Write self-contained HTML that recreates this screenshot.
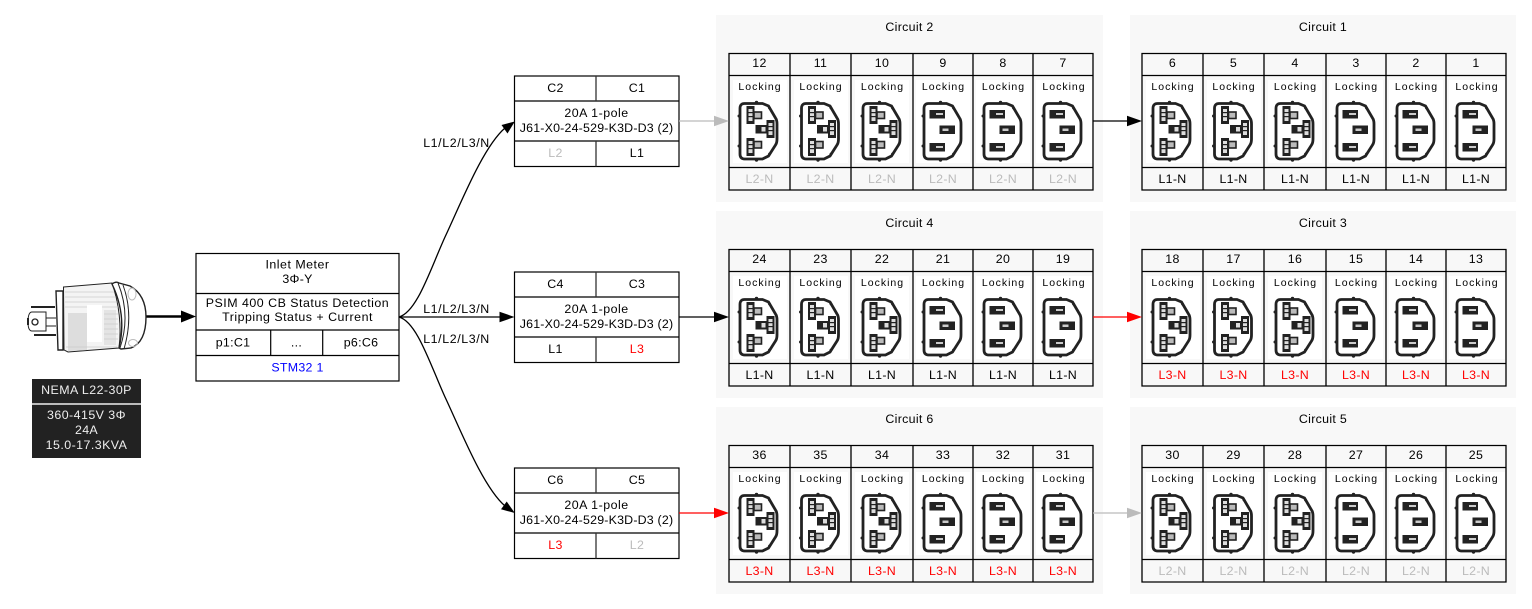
<!DOCTYPE html>
<html><head><meta charset="utf-8"><style>
html,body{margin:0;padding:0;background:#fff}
svg{display:block}
text{font-family:"Liberation Sans",sans-serif;font-size:12.4px;text-anchor:middle;fill:#000;letter-spacing:.3px}
.lk{font-size:10.5px;letter-spacing:1px}
.g{fill:#bbb}.r{fill:#f00}
.j{letter-spacing:.2px}.m{letter-spacing:.6px}.p{letter-spacing:.5px}.w{letter-spacing:.45px}
</style></head><body>
<svg xmlns="http://www.w3.org/2000/svg" width="1532" height="609" viewBox="0 0 1532 609">
<defs>
<g id="o"><path d="M6,1.500 H24 L30,4 L37,16 Q38.500,18 38.500,22 V37 Q38.500,41 37,43 L30,54 L24,57 H6 Q1.500,57 1.500,52 V6.500 Q1.500,1.500 6,1.500 Z" fill="#fff" stroke="#222" stroke-width="2.800"/><circle cx="0.500" cy="14" r="1.500" fill="#222"/><circle cx="0.500" cy="44" r="1.500" fill="#222"/><circle cx="18" cy="0.500" r="1.700" fill="#222"/><circle cx="18" cy="58" r="1.700" fill="#222"/><circle cx="31" cy="6" r="1.400" fill="#222"/><circle cx="31" cy="52" r="1.400" fill="#222"/></g>
<g id="lock"><use href="#o"/>
<g fill="#222"><rect x="8" y="4" width="8" height="18"/><rect x="8" y="36" width="8" height="18"/><rect x="28" y="18" width="8" height="18"/><rect x="17" y="23" width="12" height="8.500"/></g>
<g fill="#ddd"><rect x="10" y="7" width="4" height="12"/><rect x="10" y="39" width="4" height="12"/><rect x="30" y="21" width="4" height="12"/><rect x="23" y="25" width="4" height="4.500"/></g>
<g fill="#222"><rect x="10" y="10" width="4" height="1.200"/><rect x="10" y="14" width="4" height="1.200"/><rect x="10" y="42" width="4" height="1.200"/><rect x="10" y="46" width="4" height="1.200"/><rect x="30" y="24" width="4" height="1.200"/><rect x="30" y="28" width="4" height="1.200"/></g>
<g fill="#bbb" stroke="#222" stroke-width="1.600"><rect x="15.500" y="10" width="7.500" height="6.500"/><rect x="15.500" y="39.500" width="7.500" height="6.500"/></g></g>
<g id="plain"><use href="#o"/>
<g fill="#222"><rect x="7" y="8" width="15.500" height="8.500"/><rect x="7" y="41" width="15.500" height="8.500"/><rect x="17" y="23.500" width="15.500" height="8.500"/></g>
<g fill="#ccc"><rect x="13.500" y="11" width="7" height="2"/><rect x="13.500" y="44" width="7" height="2"/><rect x="20" y="26.500" width="6" height="2.500"/></g></g>
<path id="aK" d="M0,0 L-15,-5.300 V5.300 Z"/>
<g id="frame">
<rect x="4" y="80" width="54" height="83" fill="#fff"/><rect x="65" y="80" width="54" height="83" fill="#fff"/><rect x="126" y="80" width="54" height="83" fill="#fff"/><rect x="187" y="80" width="54" height="83" fill="#fff"/><rect x="247" y="80" width="54" height="83" fill="#fff"/><rect x="307" y="80" width="56" height="83" fill="#fff"/>
<use href="#lock" x="9.500" y="102"/><use href="#lock" x="71" y="102"/><use href="#lock" x="132.500" y="102"/><use href="#plain" x="193.500" y="102"/><use href="#plain" x="253.500" y="102"/><use href="#plain" x="313.500" y="102"/>
<path d="M0,53.500 H364 V190 H0 Z M0,75.500 H364 M0,167.500 H364 M61,53.500 V190 M122,53.500 V190 M184,53.500 V190 M244,53.500 V190 M304,53.500 V190" fill="none" stroke="#000" stroke-width="1.300"/>
</g>
<g id="brk" fill="none" stroke="#000" stroke-width="1.200">
<rect x="514.500" y="76" width="164.500" height="90.500" fill="#fff"/><path d="M514.500,101 H679 M514.500,141 H679"/><path d="M596,76 V101 M596,141 V166.500" stroke="#333" stroke-width="1.300"/></g>
</defs>

<rect width="1532" height="609" fill="#fff"/>
<!-- cluster backgrounds -->
<g fill="#f8f8f8">
<rect x="716" y="15" width="387" height="187"/><rect x="1130" y="15" width="386" height="187"/>
<rect x="716" y="211" width="387" height="187"/><rect x="1130" y="211" width="386" height="187"/>
<rect x="716" y="407" width="387" height="187"/><rect x="1130" y="407" width="386" height="187"/>
</g>

<!-- Circuit 2 -->
<g transform="translate(729,0)"><use href="#frame"/>
<text x="180.500" y="31">Circuit 2</text>
<text x="30.500" y="67">12</text><text x="91.500" y="67">11</text><text x="153" y="67">10</text><text x="214" y="67">9</text><text x="274" y="67">8</text><text x="334" y="67">7</text>
<text class="lk" x="31" y="90">Locking</text><text class="lk" x="92" y="90">Locking</text><text class="lk" x="153.500" y="90">Locking</text><text class="lk" x="214.500" y="90">Locking</text><text class="lk" x="274.500" y="90">Locking</text><text class="lk" x="335" y="90">Locking</text>
<text class="g" x="30.500" y="183">L2-N</text><text class="g" x="91.500" y="183">L2-N</text><text class="g" x="153" y="183">L2-N</text><text class="g" x="214" y="183">L2-N</text><text class="g" x="274" y="183">L2-N</text><text class="g" x="334" y="183">L2-N</text>
</g>
<!-- Circuit 1 -->
<g transform="translate(1142,0)"><use href="#frame"/>
<text x="181" y="31">Circuit 1</text>
<text x="30.500" y="67">6</text><text x="91.500" y="67">5</text><text x="153" y="67">4</text><text x="214" y="67">3</text><text x="274" y="67">2</text><text x="334" y="67">1</text>
<text class="lk" x="31" y="90">Locking</text><text class="lk" x="92" y="90">Locking</text><text class="lk" x="153.500" y="90">Locking</text><text class="lk" x="214.500" y="90">Locking</text><text class="lk" x="274.500" y="90">Locking</text><text class="lk" x="335" y="90">Locking</text>
<text x="30.500" y="183">L1-N</text><text x="91.500" y="183">L1-N</text><text x="153" y="183">L1-N</text><text x="214" y="183">L1-N</text><text x="274" y="183">L1-N</text><text x="334" y="183">L1-N</text>
</g>
<!-- Circuit 4 -->
<g transform="translate(729,196)"><use href="#frame"/>
<text x="180.500" y="31">Circuit 4</text>
<text x="30.500" y="67">24</text><text x="91.500" y="67">23</text><text x="153" y="67">22</text><text x="214" y="67">21</text><text x="274" y="67">20</text><text x="334" y="67">19</text>
<text class="lk" x="31" y="90">Locking</text><text class="lk" x="92" y="90">Locking</text><text class="lk" x="153.500" y="90">Locking</text><text class="lk" x="214.500" y="90">Locking</text><text class="lk" x="274.500" y="90">Locking</text><text class="lk" x="335" y="90">Locking</text>
<text x="30.500" y="183">L1-N</text><text x="91.500" y="183">L1-N</text><text x="153" y="183">L1-N</text><text x="214" y="183">L1-N</text><text x="274" y="183">L1-N</text><text x="334" y="183">L1-N</text>
</g>
<!-- Circuit 3 -->
<g transform="translate(1142,196)"><use href="#frame"/>
<text x="181" y="31">Circuit 3</text>
<text x="30.500" y="67">18</text><text x="91.500" y="67">17</text><text x="153" y="67">16</text><text x="214" y="67">15</text><text x="274" y="67">14</text><text x="334" y="67">13</text>
<text class="lk" x="31" y="90">Locking</text><text class="lk" x="92" y="90">Locking</text><text class="lk" x="153.500" y="90">Locking</text><text class="lk" x="214.500" y="90">Locking</text><text class="lk" x="274.500" y="90">Locking</text><text class="lk" x="335" y="90">Locking</text>
<text class="r" x="30.500" y="183">L3-N</text><text class="r" x="91.500" y="183">L3-N</text><text class="r" x="153" y="183">L3-N</text><text class="r" x="214" y="183">L3-N</text><text class="r" x="274" y="183">L3-N</text><text class="r" x="334" y="183">L3-N</text>
</g>
<!-- Circuit 6 -->
<g transform="translate(729,392)"><use href="#frame"/>
<text x="180.500" y="31">Circuit 6</text>
<text x="30.500" y="67">36</text><text x="91.500" y="67">35</text><text x="153" y="67">34</text><text x="214" y="67">33</text><text x="274" y="67">32</text><text x="334" y="67">31</text>
<text class="lk" x="31" y="90">Locking</text><text class="lk" x="92" y="90">Locking</text><text class="lk" x="153.500" y="90">Locking</text><text class="lk" x="214.500" y="90">Locking</text><text class="lk" x="274.500" y="90">Locking</text><text class="lk" x="335" y="90">Locking</text>
<text class="r" x="30.500" y="183">L3-N</text><text class="r" x="91.500" y="183">L3-N</text><text class="r" x="153" y="183">L3-N</text><text class="r" x="214" y="183">L3-N</text><text class="r" x="274" y="183">L3-N</text><text class="r" x="334" y="183">L3-N</text>
</g>
<!-- Circuit 5 -->
<g transform="translate(1142,392)"><use href="#frame"/>
<text x="181" y="31">Circuit 5</text>
<text x="30.500" y="67">30</text><text x="91.500" y="67">29</text><text x="153" y="67">28</text><text x="214" y="67">27</text><text x="274" y="67">26</text><text x="334" y="67">25</text>
<text class="lk" x="31" y="90">Locking</text><text class="lk" x="92" y="90">Locking</text><text class="lk" x="153.500" y="90">Locking</text><text class="lk" x="214.500" y="90">Locking</text><text class="lk" x="274.500" y="90">Locking</text><text class="lk" x="335" y="90">Locking</text>
<text class="g" x="30.500" y="183">L2-N</text><text class="g" x="91.500" y="183">L2-N</text><text class="g" x="153" y="183">L2-N</text><text class="g" x="214" y="183">L2-N</text><text class="g" x="274" y="183">L2-N</text><text class="g" x="334" y="183">L2-N</text>
</g>

<!-- Breakers -->
<use href="#brk"/><use href="#brk" y="196"/><use href="#brk" y="392"/>
<text x="555.500" y="92">C2</text><text x="637" y="92">C1</text>
<text class="p" x="596.500" y="117">20A 1-pole</text><text class="j" x="596.500" y="132">J61-X0-24-529-K3D-D3 (2)</text>
<text class="g" x="555.500" y="157">L2</text><text x="637" y="157">L1</text>
<text x="555.500" y="288">C4</text><text x="637" y="288">C3</text>
<text class="p" x="596.500" y="313">20A 1-pole</text><text class="j" x="596.500" y="328">J61-X0-24-529-K3D-D3 (2)</text>
<text x="555.500" y="353">L1</text><text class="r" x="637" y="353">L3</text>
<text x="555.500" y="484">C6</text><text x="637" y="484">C5</text>
<text class="p" x="596.500" y="509">20A 1-pole</text><text class="j" x="596.500" y="524">J61-X0-24-529-K3D-D3 (2)</text>
<text class="r" x="555.500" y="549">L3</text><text class="g" x="637" y="549">L2</text>

<!-- Inlet table -->
<g fill="none" stroke="#000" stroke-width="1.200">
<rect x="196" y="253.500" width="203" height="127.500" fill="#fff"/>
<path d="M196,293.500 H399 M196,330 H399 M196,355.500 H399 M270.700,330 V355.500 M322.700,330 V355.500"/>
</g>
<text class="p" x="297.500" y="268.500">Inlet Meter</text><text x="297.500" y="283">3Φ-Y</text>
<text class="p" x="297.500" y="307">PSIM 400 CB Status Detection</text><text class="p" x="297.500" y="321">Tripping Status + Current</text>
<text x="233" y="346.500">p1:C1</text><text x="296.500" y="346.500">...</text><text x="361" y="346.500">p6:C6</text>
<text x="297.500" y="371.500" style="fill:#00f">STM32 1</text>

<!-- Connectors -->
<g fill="none" stroke="#000" stroke-width="1.300">
<path d="M399,317 C417,312 430,270 445,237 C461,203 483,147 505,128"/>
<path d="M399,317 H502"/>
<path d="M399,317 C417,322 430,364 445,397 C461,431 483,487 505,506"/>
<path d="M679,317 H714"/><path d="M1093,121 H1127"/>
<path d="M679,121 H714" stroke="#bbb"/><path d="M1093,513 H1127" stroke="#bbb"/>
<path d="M679,513 H714" stroke="#f00"/><path d="M1093,317 H1127" stroke="#f00"/>
<path d="M146,316.500 H183" stroke-width="2.400"/>
</g>
<path d="M514.800,121.500 L507.500,133.500 L501.500,125 Z"/><path d="M514.800,513 L501,509.300 L506.700,501.500 Z"/>
<use href="#aK" x="514.500" y="317"/><use href="#aK" x="729" y="317"/><use href="#aK" x="1142" y="121"/>
<use href="#aK" x="729" y="121" fill="#bbb"/><use href="#aK" x="1142" y="513" fill="#bbb"/>
<use href="#aK" x="729" y="513" fill="#f00"/><use href="#aK" x="1142" y="317" fill="#f00"/>
<path d="M196,316.500 L181,310.500 V322.500 Z"/>
<text class="m" x="456.500" y="147">L1/L2/L3/N</text><text class="m" x="456.500" y="313">L1/L2/L3/N</text><text class="m" x="456.500" y="343">L1/L2/L3/N</text>

<!-- Plug -->
<g fill="none" stroke="#222" stroke-width="1">
<path d="M56,291 H63 V350 H58 Z" fill="#fff" stroke-width="1.400"/>
<path d="M63.500,287 L112,283 Q123,315 119,348 L68,352 L64,350 Z" fill="#f4f4f4" stroke-width="1"/>
<path d="M68,313 H87 V350 L68,351 Z" fill="#ddd" stroke="none"/><path d="M104,310 H116 V345 H104 Z" fill="#e4e4e4" stroke="none"/>
<path d="M65,292 H114 M65,297 H116 M65,302 H117 M65,307 H118 M104,314 H118 M104,319 H118 M104,324 H118 M104,329 H118 M104,334 H118 M104,339 H118 M66,347 H117" stroke="#ccc" stroke-width=".8"/>
<rect x="87" y="305" width="15" height="37" fill="#fff" stroke="none"/>
<path d="M112,284 Q116,281 119,283 L130,286 Q146,295 146,317 Q146,342 131,348 L121,349 L119,348 Q127,315 112,284 Z" fill="#fff" stroke-width="1.400"/>
<path d="M118,283 Q131,315 120,348 M123,285 Q134,315 124,349"/>
<ellipse cx="132" cy="294" rx="4" ry="6" stroke="#bbb"/><ellipse cx="133" cy="343" rx="4.500" ry="3.500" stroke="#bbb"/>
<path d="M31,307 H55" stroke-width="2"/><path d="M34,335 H56" stroke-width="2"/>
<path d="M56,318 H43 M56,326 H43"/>
<path d="M32,312 H46 V331 H32 Q28,331 28,322 Q28,312 32,312 Z" fill="#fff"/>
<circle cx="35" cy="322" r="3" fill="#fff" stroke-width="1.300"/>
<path d="M28,318 V325" stroke-width="2"/>
</g>

<!-- Black label -->
<rect x="32" y="379" width="109" height="79" fill="#222"/>
<rect x="32" y="403" width="109" height="2" fill="#bbb"/>
<text class="w" style="fill:#eee" x="86.500" y="394">NEMA L22-30P</text><text class="w" style="fill:#eee" x="86.500" y="419">360-415V 3Φ</text><text style="fill:#eee" x="86.500" y="434">24A</text><text class="w" style="fill:#eee" x="86.500" y="449">15.0-17.3KVA</text>
</svg>
</body></html>
